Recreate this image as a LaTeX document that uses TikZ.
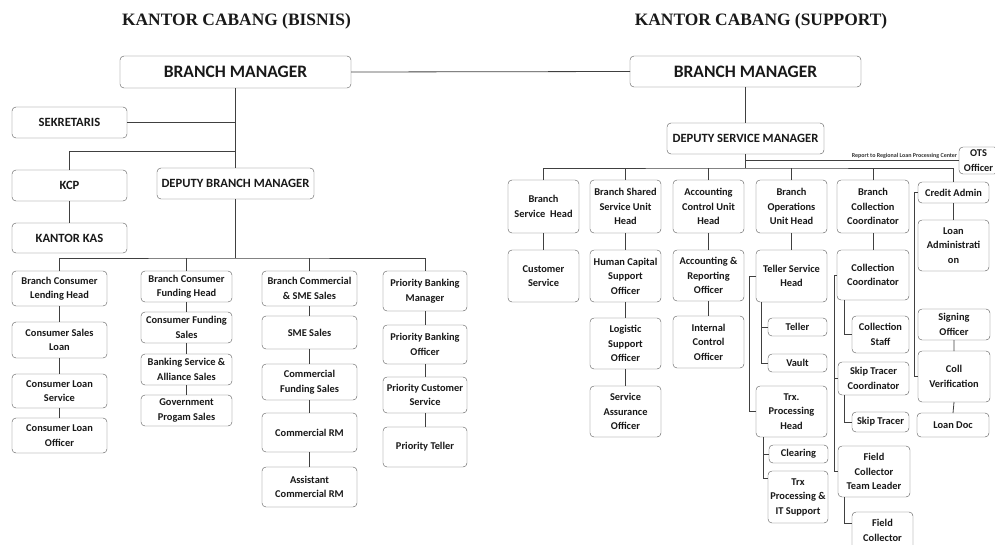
\documentclass[tikz,border=0pt]{standalone}
\usepackage{fontspec}
\setmainfont{Carlito}
\newfontfamily\titlefont{Liberation Serif}

\tikzset{
	orgunit/.style={draw=black!65, rounded corners=4pt, fill=white, inner sep=1pt, outer sep=0pt,
		align=center, text=black!90, font=\fontsize{10.4}{14.5}\selectfont\bfseries},
	link/.style={draw=black!75, line width=0.8pt},
	heading/.style={font=\titlefont\fontsize{17.4}{20}\selectfont\bfseries, text=black!90},
}
% box from its corners: name, x1, y1, x2, y2, text
\newcommand{\orgbox}[6]{\node[orgunit, minimum width={#4-#2}, minimum height={#5-#3}] (#1) at ({(#2+#4)/2},{(#3+#5)/2}) {#6};}
\newcommand{\capsize}{\fontsize{12.6}{14.5}\selectfont}
\newcommand{\topsize}{\fontsize{17.5}{20}\selectfont}

\begin{document}
\begin{tikzpicture}[x=1pt,y=-1pt]
	\useasboundingbox (0,0) rectangle (995,544);

	\node[heading] at (236.5,21) {KANTOR CABANG (BISNIS)};
	\node[heading] at (761,21) {KANTOR CABANG (SUPPORT)};

	% bisnis side
	\orgbox{bmL}{120}{56}{351}{88}{\topsize BRANCH MANAGER}
	\orgbox{sek}{12}{107}{127}{138}{\capsize SEKRETARIS}
	\orgbox{kcp}{12}{170}{127}{201}{\capsize KCP}
	\orgbox{kas}{12}{223}{127}{253}{\capsize KANTOR KAS}
	\orgbox{dbm}{157}{168}{314}{199}{\capsize DEPUTY BRANCH MANAGER}

	\orgbox{bclh}{12}{271}{107}{306}{Branch Consumer\\Lending Head}
	\orgbox{csl}{12}{322}{107}{358}{Consumer Sales\\Loan}
	\orgbox{cls}{12}{374}{107}{408}{Consumer Loan\\Service}
	\orgbox{clo}{12}{418}{107}{453}{Consumer Loan\\Officer}

	\orgbox{bcfh}{141}{271}{232}{302}{Branch Consumer\\Funding Head}
	\orgbox{cfs}{141}{312}{232}{343}{Consumer Funding\\Sales}
	\orgbox{bsas}{141}{354}{232}{385}{Banking Service \&\\Alliance Sales}
	\orgbox{gps}{141}{395}{232}{426}{Government\\Progam Sales}

	\orgbox{bcss}{262}{271}{357}{306}{Branch Commercial\\\& SME Sales}
	\orgbox{sme}{262}{316}{357}{349}{SME Sales}
	\orgbox{cfus}{262}{364}{357}{400}{Commercial\\Funding Sales}
	\orgbox{crm}{262}{413}{357}{452}{Commercial RM}
	\orgbox{acrm}{262}{467}{357}{507}{Assistant\\Commercial RM}

	\orgbox{pbm}{383}{271}{467}{311}{Priority Banking\\Manager}
	\orgbox{pbo}{383}{325}{467}{364}{Priority Banking\\Officer}
	\orgbox{pcs}{383}{377}{467}{413}{Priority Customer\\Service}
	\orgbox{pte}{383}{427}{467}{467}{Priority Teller}

	\coordinate (kcpfork) at (235.5,151);
	\coordinate (busL) at (235.5,258);
	\draw[link] (bmL.south) -- (dbm.north);
	\draw[link] (sek.east) -- (sek.east -| bmL.south);
	\draw[link] (kcp.north) |- (kcpfork);
	\draw[link] (kcp.south) -- (kas.north);
	\draw[link] (dbm.south) -- (busL);
	\draw[link] (bclh.north) |- (busL) -| (pbm.north);
	\draw[link] (bcfh.north) -- (bcfh.north |- busL);
	\draw[link] (bcss.north) -- (bcss.north |- busL);
	\draw[link] (bclh.south) -- (csl.north) (csl.south) -- (cls.north) (cls.south) -- (clo.north);
	\draw[link] (bcfh.south) -- (cfs.north) (cfs.south) -- (bsas.north) (bsas.south) -- (gps.north);
	\draw[link] (bcss.south) -- (sme.north) (sme.south) -- (cfus.north) (cfus.south) -- (crm.north) (crm.south) -- (acrm.north);
	\draw[link] (pbm.south) -- (pbo.north) (pbo.south) -- (pcs.north) (pcs.south) -- (pte.north);

	% support side
	\orgbox{bmR}{630}{56}{861}{87}{\topsize BRANCH MANAGER}
	\orgbox{dsm}{667}{123}{824}{154}{\capsize DEPUTY SERVICE MANAGER}
	\orgbox{ots}{959}{147}{998}{174}{OTS\\Officer}

	\orgbox{bsh}{508}{180}{579}{233}{Branch\\Service\ \ Head}
	\orgbox{bss}{590}{180}{661}{233}{Branch Shared\\Service Unit\\Head}
	\orgbox{acu}{673}{180}{744}{233}{Accounting\\Control Unit\\Head}
	\orgbox{bou}{756}{180}{827}{233}{Branch\\Operations\\Unit Head}
	\orgbox{bcc}{837}{180}{909}{233}{Branch\\Collection\\Coordinator}
	\orgbox{cad}{918}{182}{989}{203}{Credit Admin}
	\orgbox{lad}{918}{220}{989}{271}{Loan\\Administrati\\on}

	\orgbox{cs}{508}{250}{579}{302}{Customer\\Service}
	\orgbox{hcs}{590}{250}{661}{302}{Human Capital\\Support\\Officer}
	\orgbox{lso}{590}{318}{661}{369}{Logistic\\Support\\Officer}
	\orgbox{sao}{590}{386}{661}{437}{Service\\Assurance\\Officer}
	\orgbox{aro}{673}{250}{744}{301}{Accounting \&\\Reporting\\Officer}
	\orgbox{ico}{673}{316}{744}{368}{Internal\\Control\\Officer}

	\orgbox{tsh}{756}{250}{827}{302}{Teller Service\\Head}
	\orgbox{tel}{768}{318}{827}{336}{Teller}
	\orgbox{vau}{768}{354}{827}{372}{Vault}
	\orgbox{tph}{756}{386}{827}{437}{Trx.\\Processing\\Head}
	\orgbox{clr}{769}{445}{828}{463}{Clearing}
	\orgbox{tps}{768}{471}{828}{523}{Trx\\Processing \&\\IT Support}

	\orgbox{cco}{837}{250}{909}{300}{Collection\\Coordinator}
	\orgbox{cst}{852}{316}{909}{353}{Collection\\Staff}
	\orgbox{stc}{838}{362}{909}{395}{Skip Tracer\\Coordinator}
	\orgbox{str}{852}{412}{909}{432}{Skip Tracer}
	\orgbox{fct}{838}{446}{910}{497}{Field\\Collector\\Team Leader}
	\orgbox{fco}{852}{512}{913}{549}{Field\\Collector}

	\orgbox{sof}{918}{309}{990}{340}{Signing\\Officer}
	\orgbox{cve}{918}{351}{990}{402}{Coll\\Verification}
	\orgbox{ldo}{917}{413}{989}{437}{Loan Doc}

	\coordinate (busR) at (745.5,168);
	\draw[link] (bmL.east) -- (bmR.west);
	\draw[link] (bmR.south) -- (dsm.north);
	\draw[link] (dsm.south) -- (busR);
	\draw[link] (dsm.south |- ots.west) -- (ots.west)
		node[pos=1, anchor=south east, inner sep=1.5pt, font=\fontsize{6}{6}\selectfont\bfseries, text=black!80] {Report to Regional Loan Processing Center};
	\draw[link] (bsh.north) |- (busR) -| (cad.north);
	\draw[link] (bss.north) -- (bss.north |- busR);
	\draw[link] (acu.north) -- (acu.north |- busR);
	\draw[link] (bou.north) -- (bou.north |- busR);
	\draw[link] (bcc.north) -- (bcc.north |- busR);

	\draw[link] (bsh.south) -- (cs.north);
	\draw[link] (bss.south) -- (hcs.north) (hcs.south) -- (lso.north) (lso.south) -- (sao.north);
	\draw[link] (acu.south) -- (aro.north) (aro.south) -- (ico.north);
	\draw[link] (bou.south) -- (tsh.north);
	\draw[link] (bcc.south) -- (cco.north);
	\draw[link] (cad.south) -- (lad.north);
	\draw[link] (sof.south) -- (cve.north) (cve.south) -- (ldo.north);

	\draw[link] (tsh.west) -- ++(-7,0) |- (tph.west);
	\draw[link] ([xshift=5pt]tsh.south west) |- (tel.west);
	\draw[link] ([xshift=5pt]tsh.south west) |- (vau.west);
	\draw[link] ([xshift=7pt]tph.south west) |- (clr.west);
	\draw[link] ([xshift=7pt]tph.south west) |- ([yshift=-7pt]tps.north west);

	\draw[link] (cco.west) -- ++(-3,0) |- (fct.west);
	\draw[link] (stc.west) -- ++(-4,0);
	\draw[link] ([xshift=7pt]cco.south west) |- (cst.west);
	\draw[link] ([xshift=6pt]stc.south west) |- (str.west);
	\draw[link] ([xshift=6pt]fct.south west) |- ([yshift=-11pt]fco.north west);

	\draw[link] (cad.west) -- ++(-4,0) |- (cve.west);
\end{tikzpicture}
\end{document}
